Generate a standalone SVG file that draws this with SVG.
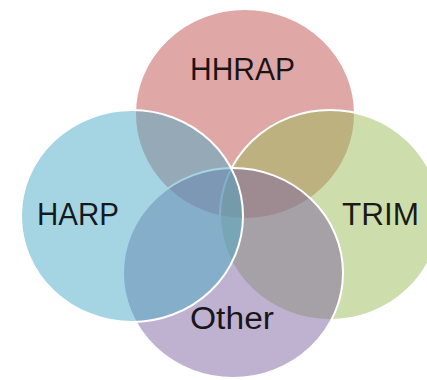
<svg xmlns="http://www.w3.org/2000/svg" width="427" height="380" viewBox="0 0 427 380">
  <style>
    .set { stroke: #ffffff; stroke-width: 2; fill-opacity: 0.5; }
    .label { font-family: "Liberation Sans", Arial, sans-serif; font-size: 31px; fill: #000000; fill-opacity: 0.88; }
  </style>
  <rect width="427" height="380" fill="#ffffff"/>
  <!-- Venn sets, drawn clockwise from the top so later sets overlay earlier ones -->
  <g id="hhrap">
    <ellipse class="set" cx="245" cy="114" rx="110" ry="105" fill="#C0504D"/>
  </g>
  <g id="trim">
    <ellipse class="set" cx="330" cy="215" rx="110" ry="105" fill="#9BBB59"/>
  </g>
  <g id="other">
    <ellipse class="set" cx="233" cy="273" rx="110" ry="105" fill="#8064A2"/>
  </g>
  <g id="harp">
    <ellipse class="set" cx="132" cy="216" rx="111" ry="106" fill="#4BACC6"/>
  </g>
  <!-- set labels -->
  <g id="labels">
    <text class="label" x="190" y="80" textLength="105" lengthAdjust="spacingAndGlyphs">HHRAP</text>
    <text class="label" x="37" y="225" textLength="82" lengthAdjust="spacingAndGlyphs">HARP</text>
    <text class="label" x="342" y="225" textLength="77" lengthAdjust="spacingAndGlyphs">TRIM</text>
    <text class="label" x="190" y="329" textLength="84" lengthAdjust="spacingAndGlyphs">Other</text>
  </g>
</svg>
